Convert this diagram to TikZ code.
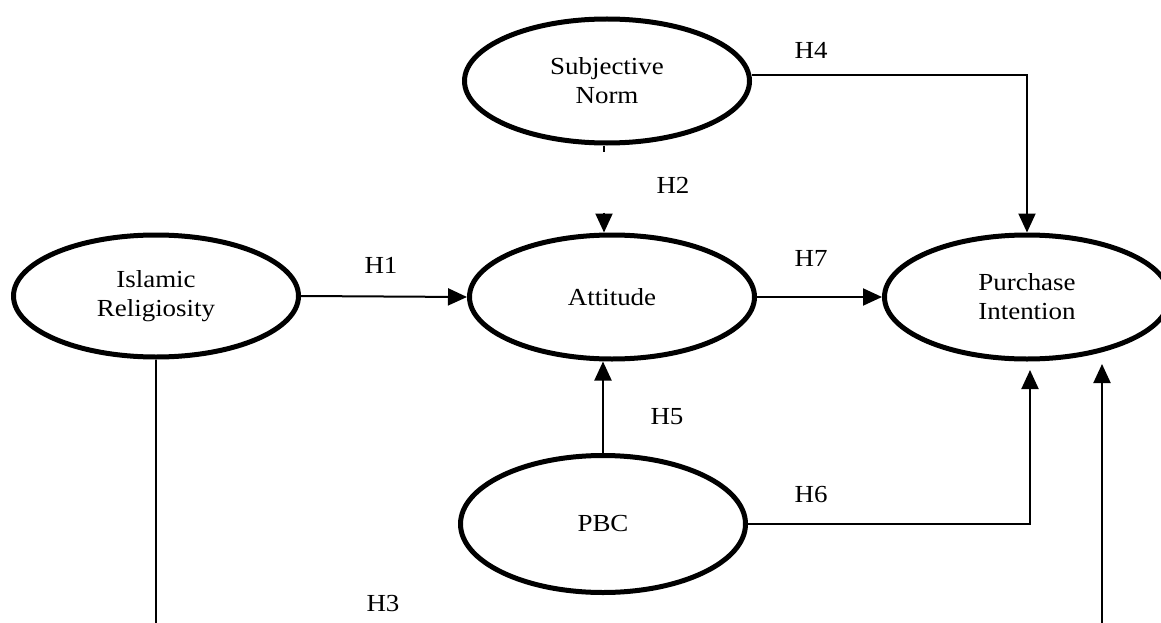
\documentclass[tikz,border=0pt]{standalone}
\usepackage{fontspec}
\setmainfont[FakeStretch=1.1]{Liberation Serif}
\usetikzlibrary{shapes.geometric,arrows.meta}
\begin{document}
\begin{tikzpicture}[x=1pt,y=-1pt,
  construct/.style={ellipse,draw,line width=5pt,minimum width=285pt,minimum height=122pt,align=center,inner sep=0pt,font=\fontsize{24.5}{29}\selectfont},
  link/.style={line width=2pt,-{Triangle[length=19pt,width=17pt]}},
  hyp/.style={font=\fontsize{24.5}{29}\selectfont,inner sep=0pt}]
\useasboundingbox (0,0) rectangle (1161,623);
\node[construct,minimum height=124pt] (sn) at (607,81) {Subjective\\Norm};
\node[construct,minimum height=124pt] (att) at (612,297) {Attitude};
\node[construct] (ir) at (156,296) {Islamic\\Religiosity};
\node[construct,minimum height=124pt] (pi) at (1027,297) {Purchase\\Intention};
\node[construct,minimum height=137pt] (pbc) at (603,524) {PBC};
% H1, H7
\draw[link] (ir.east) -- (att.west);
\draw[link] (att.east) -- (pi.west);
% H4
\draw[link] ([yshift=6pt]sn.east) -- ([yshift=6pt]sn.east -| pi.north) -- (pi.north);
% H2 (broken connector)
\draw[line width=1.5pt] ([xshift=-3pt]sn.south) -- ++(0,6);
\draw[link] ([xshift=-8pt,yshift=20pt]att.north) -- ([xshift=-8pt]att.north);
% H5
\draw[link] (pbc.north) -- (pbc.north |- att.south);
% H6
\coordinate (h6end) at (1030,370);
\draw[link] (pbc.east) -| (h6end);
% H3
\coordinate (h3end) at (1102,364);
\draw[link] (ir.south) -- (ir.south |- 0,660) -- (h3end |- 0,660) -- (h3end);
% labels
\node[hyp] (l4) at (811,50) {H4};
\node[hyp] (l2) at (673,185) {H2};
\node[hyp] (l1) at (381,265) {H1};
\node[hyp] (l7) at (811,258) {H7};
\node[hyp] (l5) at (667,417) {H5};
\node[hyp] (l6) at (811,495) {H6};
\node[hyp] (l3) at (383,604) {H3};
\end{tikzpicture}
\end{document}
